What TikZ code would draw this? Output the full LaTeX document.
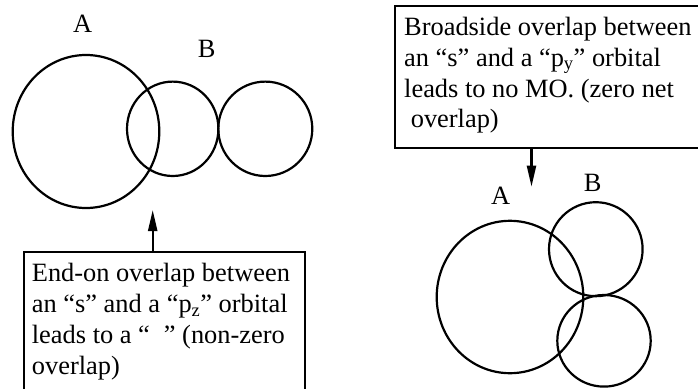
\documentclass[tikz,border=0pt]{standalone}
\usepackage{fontspec}
\setmainfont{Liberation Serif}
\usetikzlibrary{arrows.meta}
\begin{document}
\begin{tikzpicture}[x=1pt,y=-1pt,
  orb/.style={draw, line width=2.2pt},
  boxstyle/.style={draw, line width=2.2pt, rectangle, inner sep=0pt},
  txt/.style={inner sep=0pt, anchor=base west, font=\fontsize{26.4}{31}\selectfont},
  lbl/.style={inner sep=0pt, font=\fontsize{26.4}{31}\selectfont},
  arr/.style={line width=2.2pt, -{Triangle[length=21pt,width=9pt]}}]
\useasboundingbox (0,0) rectangle (698,388);
\clip (0,0) rectangle (698,388);
% left figure
\draw[orb] (86,131.5) ellipse [x radius=73.3, y radius=76.5];
\draw[orb] (172.7,128.8) ellipse [x radius=45.7, y radius=47.2];
\draw[orb] (265.3,128.8) ellipse [x radius=47, y radius=47.2];
\node[lbl] (lA) at (82.7,23.3) {A};
\node[lbl] (lB) at (206.7,49.3) {B};
\node[boxstyle, anchor=north west, minimum width=281.3pt, minimum height=170pt] (boxL) at (22.7,250.7) {};
\node[txt] (tL1) at (31.7,281.5) {End-on overlap between};
\node[txt] (tL2) at (31.7,312.5) {an “s” and a “p\textsubscript{z}” orbital};
\node[txt] (tL3) at (31.7,343.5) {leads to a “\hspace{14pt}” (non-zero};
\node[txt] (tL4) at (31.7,374.5) {overlap)};
\coordinate (tipL) at (152.7,210);
\draw[arr] (boxL.north -| tipL) -- (tipL);
% right figure
\node[boxstyle, anchor=north west, minimum width=330pt, minimum height=141.7pt] (boxR) at (394,5) {};
\node[txt] (tR1) at (404,35) {Broadside overlap between};
\node[txt] (tR2) at (404,66) {an “s” and a “p\textsubscript{y}” orbital};
\node[txt] (tR3) at (404,97) {leads to no MO. (zero net};
\node[txt] (tR4) at (404,127.7) {\ overlap)};
\coordinate (tipR) at (531.5,186.7);
\draw[arr] (boxR.south -| tipR) -- (tipR);
\node[lbl] (rA) at (500.7,196) {A};
\node[lbl] (rB) at (592.7,182.7) {B};
\draw[orb] (510,297) ellipse [x radius=73.3, y radius=76.2];
\draw[orb] (595.8,249.2) ellipse [x radius=46.8, y radius=47];
\draw[orb] (604,340.8) ellipse [x radius=46.7, y radius=45.8];
\end{tikzpicture}
\end{document}
